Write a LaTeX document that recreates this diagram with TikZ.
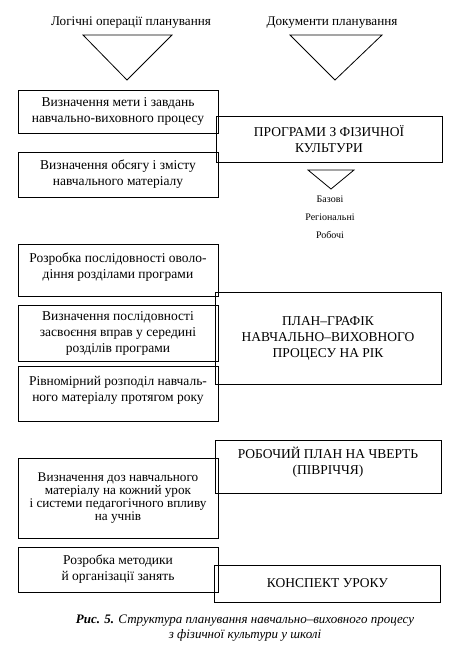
\documentclass[tikz,border=0pt]{standalone}
\usepackage{fontspec}
\setmainfont{Liberation Serif}
\begin{document}
\begin{tikzpicture}[x=1pt,y=-1pt,
  box/.style={draw,line width=0.8pt,align=center,inner sep=2pt,
    font=\fontsize{13.5}{16}\selectfont},
  lbox/.style={box,minimum width=200pt},
  rbox/.style={box,minimum width=226pt},
  lbl/.style={font=\fontsize{13.2}{15.5}\selectfont,align=center,inner sep=1pt},
  tri/.style={draw,line width=0.8pt}]
\useasboundingbox (0,0) rectangle (459,663);
% headers
\node[lbl] (h1) at (131,23) {Логічні операції планування};
\node[lbl] (h2) at (332,23) {Документи планування};
\coordinate (t1a) at (83,35); \coordinate (t1b) at (172,35); \coordinate (t1c) at (127,80);
\coordinate (t2a) at (290,35); \coordinate (t2b) at (382,35); \coordinate (t2c) at (335,80);
\draw[tri] (t1a) -- (t1b) -- (t1c) -- cycle;
\draw[tri] (t2a) -- (t2b) -- (t2c) -- cycle;
% left boxes
\node[lbox,minimum height=43pt] (b1) at (118,111.5) {Визначення мети і завдань\\навчально-виховного процесу};
\node[lbox,minimum height=45pt] (b2) at (118,174.5) {Визначення обсягу і змісту\\навчального матеріалу};
\node[lbox,minimum height=52pt] (b3) at (118,270) {Розробка послідовності оволо-\\діння розділами програми\\[-7pt]\mbox{}};
\node[lbox,minimum height=56pt] (b4) at (118,333) {Визначення послідовності\\засвоєння вправ у середині\\розділів програми};
\node[lbox,minimum height=55pt] (b5) at (118,393.5) {Рівномірний розподіл навчаль-\\ного матеріалу протягом року\\[-7pt]\mbox{}};
\node[lbox,minimum height=80pt,font=\fontsize{13.2}{12.8}\selectfont] (b6) at (118,498) {Визначення доз навчального\\матеріалу на кожний урок\\і системи педагогічного впливу\\на учнів};
\node[lbox,minimum height=45pt] (b7) at (118,569.5) {Розробка методики\\й організації занять};
% right boxes
\node[rbox,minimum height=46pt] (r1) at (329,139) {ПРОГРАМИ З ФІЗИЧНОЇ\\КУЛЬТУРИ};
\coordinate (t3a) at (308,170); \coordinate (t3b) at (354,170); \coordinate (t3c) at (331,189);
\draw[tri] (t3a) -- (t3b) -- (t3c) -- cycle;
\node[lbl,font=\fontsize{10}{18}\selectfont] (types) at (330,217) {Базові\\Регіональні\\Робочі};
\node[rbox,minimum height=92pt] (r2) at (328,338) {ПЛАН–ГРАФІК\\НАВЧАЛЬНО–ВИХОВНОГО\\ПРОЦЕСУ НА РІК};
\node[rbox,minimum height=53pt] (r3) at (328,466.5) {РОБОЧИЙ ПЛАН НА ЧВЕРТЬ\\(ПІВРІЧЧЯ)\\[-4pt]\mbox{}};
\node[rbox,minimum height=37pt] (r4) at (327.5,583.5) {КОНСПЕКТ УРОКУ};
% caption
\node[lbl,font=\fontsize{13}{15.5}\selectfont\itshape] (cap) at (245,628) {\textbf{Рис. 5.} Структура планування навчально–виховного процесу\\з фізичної культури у школі};
\end{tikzpicture}
\end{document}
